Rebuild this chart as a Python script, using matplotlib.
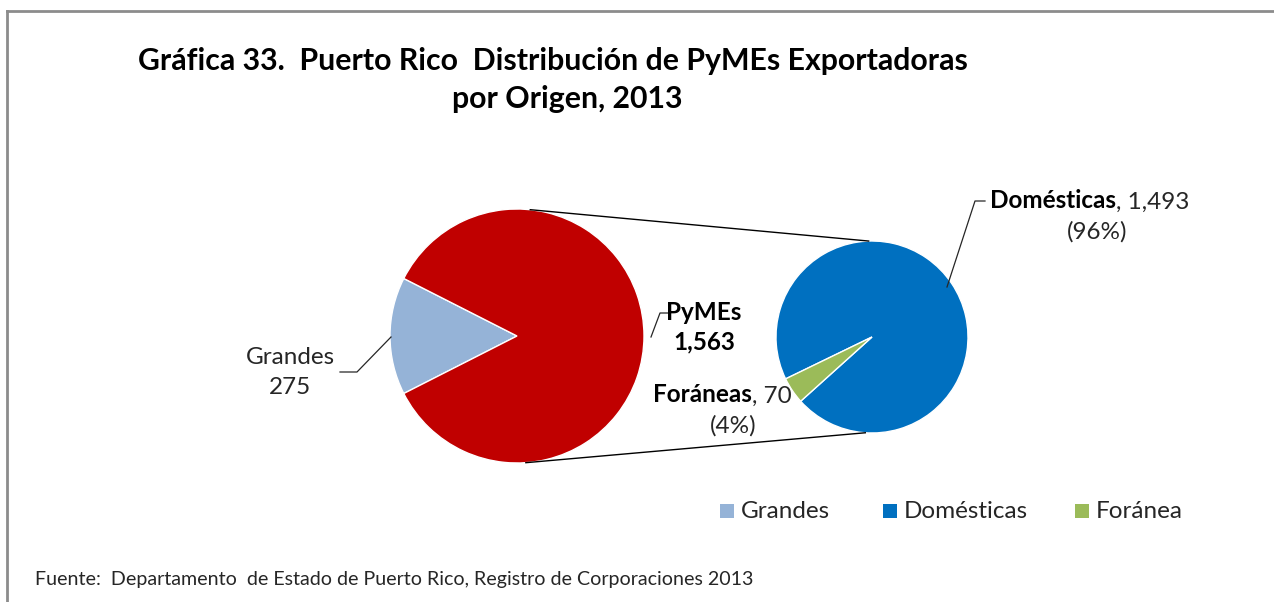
import numpy as np
import matplotlib
matplotlib.use("Agg")
import matplotlib.pyplot as plt
from matplotlib.patches import Rectangle

plt.rcParams['font.family'] = ['Lato', 'DejaVu Sans']

# data
main_labels = ["Grandes", "PyMEs"]
main_values = [275, 1563]
sub_labels = ["Domésticas", "Foráneas"]
sub_values = [1493, 70]
legend_labels = ["Grandes", "Domésticas", "Foránea"]

main_colors = ["#95B3D7", "#C00000"]
sub_colors = ["#0070C0", "#9BBB59"]

W, H = 1274, 602


def Y(y):
    # image row -> axes y (y axis points up)
    return H - y


fig = plt.figure(figsize=(W / 100, H / 100), dpi=100)
ax = fig.add_axes([0, 0, 1, 1])

# pie geometry (pixels)
c1, r1 = (517, Y(336)), 127
c2, r2 = (872, Y(337)), 96

grandes_span = 360 * main_values[0] / sum(main_values)
ax.pie(main_values, colors=main_colors, center=c1, radius=r1,
       startangle=180 - grandes_span / 2, counterclock=True,
       wedgeprops=dict(edgecolor="white", linewidth=1))

sub_start = 222
ax.pie(sub_values, colors=sub_colors, center=c2, radius=r2,
       startangle=sub_start, counterclock=True,
       wedgeprops=dict(edgecolor="white", linewidth=1))


def edge_pt(c, r, ang):
    a = np.deg2rad(ang)
    return c[0] + r * np.cos(a), c[1] + r * np.sin(a)


# connector lines between the two pies
for a1, a2 in [(84, 92), (-86, -94)]:
    p1 = edge_pt(c1, r1, a1)
    p2 = edge_pt(c2, r2, a2)
    ax.plot([p1[0], p2[0]], [p1[1], p2[1]], color="black", lw=1)

lbl = 17.5
dark = "#262626"

# Grandes label
ax.plot([340, 357, 391], [Y(372), Y(372), Y(337)], color=dark, lw=0.9)
ax.text(290, Y(357), main_labels[0], ha="center", va="center", fontsize=lbl, color=dark)
ax.text(290, Y(388), f"{main_values[0]:,}", ha="center", va="center", fontsize=lbl, color=dark)

# PyMEs label
ax.plot([651, 660, 668], [Y(337), Y(313), Y(313)], color=dark, lw=0.9)
ax.text(704, Y(313), main_labels[1], ha="center", va="center", fontsize=lbl,
        fontweight="bold", color="black")
ax.text(704, Y(342), f"{main_values[1]:,}", ha="center", va="center", fontsize=lbl,
        fontweight="bold", color="black")

tot = sum(sub_values)

# Foraneas label (bold name + regular value)
t_val = ax.text(792, Y(396), f", {sub_values[1]}", ha="right", va="center",
                fontsize=lbl, color=dark)
ax.annotate(sub_labels[1], xy=(0, 0), xycoords=t_val, ha="right", va="bottom",
            fontsize=lbl, fontweight="bold", color="black")
ax.text(733, Y(426), f"({sub_values[1] / tot:.0%})", ha="center", va="center",
        fontsize=lbl, color=dark)

# Domesticas label
ax.plot([947, 975, 985], [Y(287), Y(201), Y(201)], color=dark, lw=0.9)
t_name = ax.text(990, Y(201), sub_labels[0], ha="left", va="center", fontsize=lbl,
                 fontweight="bold", color="black")
ax.annotate(f", {sub_values[0]:,}", xy=(1, 0), xycoords=t_name, ha="left", va="bottom",
            fontsize=lbl, color=dark)
ax.text(1097, Y(232), f"({sub_values[0] / tot:.0%})", ha="center", va="center",
        fontsize=lbl, color=dark)

# legend
leg_x = [720, 883, 1075]
leg_colors = [main_colors[0], sub_colors[0], sub_colors[1]]
for x, col, name in zip(leg_x, leg_colors, legend_labels):
    ax.add_patch(Rectangle((x, Y(518)), 14, 14, color=col, lw=0))
    ax.text(x + 21, Y(511), name, ha="left", va="center", fontsize=lbl, color=dark)

# title
ax.text(553, Y(61), "Gráfica 33.  Puerto Rico  Distribución de PyMEs Exportadoras",
        ha="center", va="center", fontsize=21.8, fontweight="bold", color="black")
ax.text(567, Y(99), "por Origen, 2013", ha="center", va="center", fontsize=21.8,
        fontweight="bold", color="black")

# source note
ax.text(35, Y(580), "Fuente:  Departamento  de Estado de Puerto Rico, Registro de Corporaciones 2013",
        ha="left", va="center", fontsize=14.1, color=dark)

# frame
ax.plot([7, 1273], [Y(11), Y(11)], color="#8c8c8c", lw=2)
ax.plot([7, 7], [Y(11), 0], color="#8c8c8c", lw=2)

ax.set_xlim(0, W)
ax.set_ylim(0, H)
ax.set_aspect("auto")
ax.axis("off")

fig.savefig("out.png", dpi=100, facecolor="white")
